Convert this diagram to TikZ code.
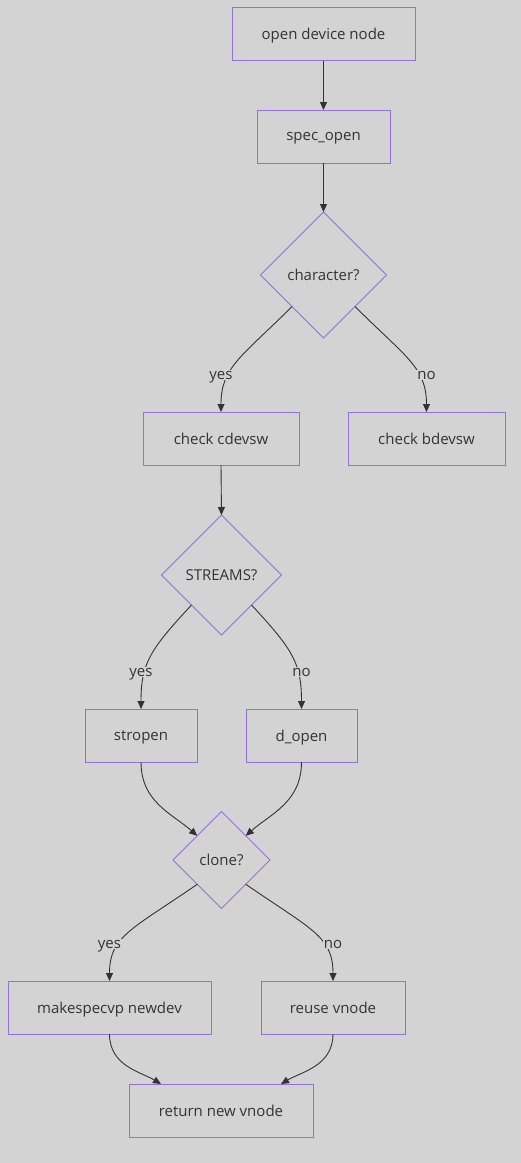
\documentclass[tikz,border=0pt]{standalone}
\usepackage{fontspec}
\setmainfont{Open Sans}
\usetikzlibrary{shapes.geometric,arrows.meta}
\definecolor{bg}{HTML}{D3D3D3}
\definecolor{nodeborder}{HTML}{9370DB}
\definecolor{txt}{HTML}{333333}
\tikzset{
  box/.style={draw=nodeborder, line width=1pt, fill=bg, text=txt, font=\fontsize{15}{18}\selectfont, minimum height=53pt, inner sep=0pt, outer sep=0pt, text depth=0pt},
  dia/.style={diamond, draw=nodeborder, line width=0.8pt, fill=bg, text=txt, font=\fontsize{15}{18}\selectfont, inner sep=0pt, outer sep=0pt, aspect=1, text depth=0pt},
  edge/.style={draw=txt, line width=0.9pt, -{Triangle[length=8pt,width=7pt]}},
  lbl/.style={fill=bg, text=txt, font=\fontsize{15}{18}\selectfont, inner sep=1pt, text depth=0pt}
}
\begin{document}
\begin{tikzpicture}[x=1pt,y=-1pt]
\fill[bg] (0,0) rectangle (521,1163);
\useasboundingbox (0,0) rectangle (521,1163);
\node[box, minimum width=183pt] (open) at (323.5,34) {open device node};
\node[box, minimum width=133pt] (spec) at (323.5,136.5) {spec\_open};
\node[dia, minimum width=126pt, minimum height=126pt] (char) at (323.5,275) {character?};
\node[box, minimum width=156pt] (cdev) at (221,438.5) {check cdevsw};
\node[box, minimum width=157pt] (bdev) at (426.5,438.5) {check bdevsw};
\node[dia, minimum width=120pt, minimum height=120pt] (streams) at (221.5,575) {STREAMS?};
\node[box, minimum width=112pt] (stropen) at (141,735.5) {stropen};
\node[box, minimum width=111pt] (dopen) at (301.5,735.5) {d\_open};
\node[dia, minimum width=97pt, minimum height=97pt] (clone) at (221.5,860) {clone?};
\node[box, minimum width=203pt] (make) at (109.5,1007.5) {makespecvp newdev};
\node[box, minimum width=144pt] (reuse) at (333,1007.5) {reuse vnode};
\node[box, minimum width=184pt] (ret) at (221,1110.5) {return new vnode};

\draw[edge] (open.south) -- (spec.north);
\draw[edge] (spec.south) -- (char.north);
\draw[edge] (char.south west) .. controls +(-50,50) and +(0,-45) .. (cdev.north);
\draw[edge] (char.south east) .. controls +(50,50) and +(0,-45) .. (bdev.north);
\draw[edge] (cdev.south) -- (streams.north);
\draw[edge] (streams.south west) .. controls +(-42,45) and +(0,-45) .. (stropen.north);
\draw[edge] (streams.south east) .. controls +(42,45) and +(0,-45) .. (dopen.north);
\draw[edge] (stropen.south) .. controls +(0,40) and +(-25,-22) .. (clone.north west);
\draw[edge] (dopen.south) .. controls +(0,40) and +(25,-22) .. (clone.north east);
\draw[edge] (clone.south west) .. controls +(-65,45) and +(0,-45) .. (make.north);
\draw[edge] (clone.south east) .. controls +(65,45) and +(0,-45) .. (reuse.north);
\draw[edge] (make.south) .. controls +(0,32) and +(-20,-12) .. ([xshift=-60pt]ret.north);
\draw[edge] (reuse.south) .. controls +(0,32) and +(20,-12) .. ([xshift=60pt]ret.north);

\node[lbl] (l1) at ([yshift=37pt]cdev.north) {yes};
\node[lbl] (l2) at ([yshift=37pt]bdev.north) {no};
\node[lbl] (l3) at ([yshift=37pt]stropen.north) {yes};
\node[lbl] (l4) at ([yshift=37pt]dopen.north) {no};
\node[lbl] (l5) at ([yshift=37pt]make.north) {yes};
\node[lbl] (l6) at ([yshift=37pt]reuse.north) {no};
\end{tikzpicture}
\end{document}
